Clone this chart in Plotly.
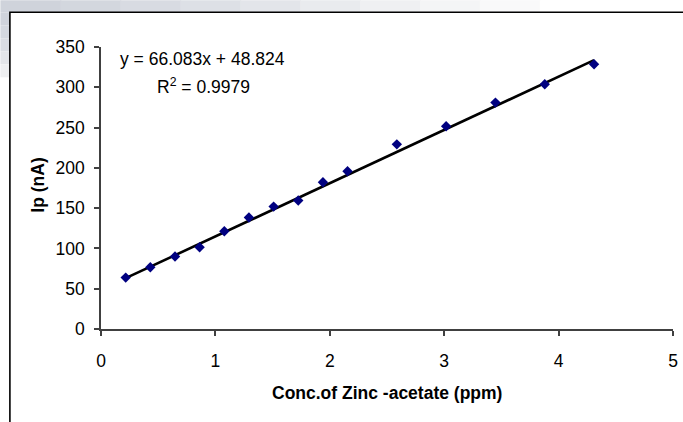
import plotly.graph_objects as go

# ---- data ----
conc_ppm = [0.216, 0.431, 0.647, 0.862, 1.078, 1.293, 1.509, 1.724, 1.940, 2.155,
            2.586, 3.017, 3.448, 3.879, 4.310]
ip_nA = [63.8, 76.6, 89.9, 101.4, 121.3, 138.3, 151.9, 159.4, 182.1, 195.7,
         229.2, 251.6, 281.0, 303.7, 328.5]
slope = 66.083
intercept = 48.824
r_squared = 0.9979
x_ticks = [0, 1, 2, 3, 4, 5]
y_ticks = [0, 50, 100, 150, 200, 250, 300, 350]

# ---- layout geometry ----
W, H = 683, 422
ML, MR, MT, MB = 100.7, 9.7, 46.7, 93.3
PW = W - ML - MR
PH = H - MT - MB


def px(xp):
    return (xp - ML) / PW


def py(yp):
    return (H - MB - yp) / PH


FONT = "Liberation Sans, Arial, sans-serif"
FS = 17.5

fig = go.Figure()

# trend line
x_line = [min(conc_ppm), max(conc_ppm)]
y_line = [slope * v + intercept for v in x_line]
fig.add_trace(go.Scatter(x=x_line, y=y_line, mode="lines",
                         line=dict(color="black", width=2.6),
                         hoverinfo="skip", showlegend=False))

# data points
fig.add_trace(go.Scatter(x=conc_ppm, y=ip_nA, mode="markers",
                         marker=dict(symbol="diamond", size=8, color="#000080",
                                     line=dict(width=0)),
                         showlegend=False))

shapes = []
# slide background gradient (top strip and left strip)
top_cols = ["#cfd3db", "#d3d7de", "#d8dbe2", "#dde0e6", "#e3e5ea", "#e9ebee",
            "#eff0f2", "#f4f5f6", "#f9f9fa", "#ffffff"]
seg = 60
for i, c in enumerate(top_cols):
    shapes.append(dict(type="rect", xref="paper", yref="paper",
                       x0=px(i * seg), x1=px((i + 1) * seg + 1),
                       y0=py(12), y1=py(0), fillcolor=c, line=dict(width=0),
                       layer="below"))
left_cols = ["#cfd3db", "#d4d8df", "#dadde3", "#e3e5e9", "#eeeff1"]
for i, c in enumerate(left_cols):
    shapes.append(dict(type="rect", xref="paper", yref="paper",
                       x0=px(0), x1=px(9.5),
                       y0=py(12 + (i + 1) * 13), y1=py(12 + i * 13),
                       fillcolor=c, line=dict(width=0), layer="below"))
# chart frame
shapes.append(dict(type="rect", xref="paper", yref="paper",
                   x0=px(9.5), x1=px(W + 20), y0=py(H + 20), y1=py(12),
                   line=dict(color="black", width=1.6), fillcolor="rgba(0,0,0,0)",
                   layer="below"))

annotations = [
    dict(text="y = 66.083x + 48.824", x=px(202.5), y=py(58.5),
         xref="paper", yref="paper", showarrow=False,
         font=dict(family=FONT, size=FS, color="black"),
         xanchor="center", yanchor="middle"),
    dict(text="R<sup>2</sup> = %.4f" % r_squared, x=px(203), y=py(86),
         xref="paper", yref="paper", showarrow=False,
         font=dict(family=FONT, size=FS, color="black"),
         xanchor="center", yanchor="middle"),
    dict(text="<b>Conc.of Zinc -acetate (ppm)</b>", x=px(386.5), y=py(393),
         xref="paper", yref="paper", showarrow=False,
         font=dict(family=FONT, size=FS, color="black"),
         xanchor="center", yanchor="middle"),
    dict(text="<b>Ip (nA)</b>", x=px(38), y=py(185), textangle=-90,
         xref="paper", yref="paper", showarrow=False,
         font=dict(family=FONT, size=FS, color="black"),
         xanchor="center", yanchor="middle"),
]

fig.update_layout(
    width=W, height=H,
    margin=dict(l=ML, r=MR, t=MT, b=MB, pad=0, autoexpand=False),
    paper_bgcolor="white", plot_bgcolor="rgba(0,0,0,0)",
    shapes=shapes, annotations=annotations,
    font=dict(family=FONT, size=FS, color="black"),
    showlegend=False,
)
fig.update_xaxes(range=[0, 5], tickvals=x_ticks, ticktext=[str(v) for v in x_ticks],
                 automargin=False,
                 showgrid=False, zeroline=False, showline=True,
                 linecolor="#404040", linewidth=1.5,
                 ticks="outside", ticklen=5, tickwidth=1.5, tickcolor="#404040",
                 ticklabelstandoff=10,
                 tickfont=dict(family=FONT, size=FS, color="black"))
fig.update_yaxes(range=[0, 350], tickvals=y_ticks, ticktext=[str(v) for v in y_ticks],
                 automargin=False,
                 showgrid=False, zeroline=False, showline=True,
                 linecolor="#404040", linewidth=1.5,
                 ticks="outside", ticklen=5, tickwidth=1.5, tickcolor="#404040",
                 ticklabelstandoff=6,
                 tickfont=dict(family=FONT, size=FS, color="black"))

fig.write_html("out.html",
               config={"displayModeBar": False},
               post_script="document.body.style.margin='0';"
                           "document.body.style.overflow='hidden';")
